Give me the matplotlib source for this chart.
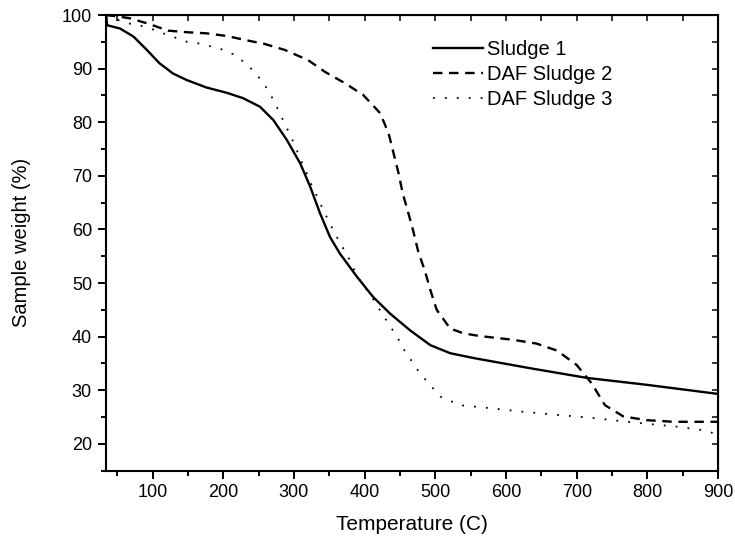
import matplotlib.pyplot as plt
from matplotlib.ticker import MultipleLocator

plt.rcParams['font.family'] = ['Liberation Sans', 'DejaVu Sans']

# Sludge 1 (solid)
t1 = [34, 36, 54, 73, 92, 110, 129, 148, 176, 205, 228, 252, 271, 290, 309, 323, 337,
      351, 365, 389, 412, 436, 464, 493, 521, 554, 634, 714, 799, 900]
w1 = [100, 98.1, 97.5, 96.0, 93.5, 91.0, 89.1, 87.9, 86.5, 85.5, 84.5, 82.9, 80.4, 76.7,
      72.3, 68.0, 63.0, 58.6, 55.5, 51.2, 47.4, 44.3, 41.2, 38.4, 36.9, 36.0, 34.1, 32.3,
      31.0, 29.3]

# DAF Sludge 2 (dashed)
t2 = [34, 54, 68, 94, 122, 149, 176, 205, 233, 259, 287, 320, 344, 372, 398, 422, 434,
      441, 448, 454, 462, 469, 476, 485, 493, 502, 521, 540, 563, 610, 643, 672, 700, 721,
      740, 766, 799, 837, 900]
w2 = [100, 99.7, 99.4, 98.4, 97.1, 96.8, 96.6, 96.1, 95.3, 94.6, 93.5, 91.6, 89.4, 87.3,
      85.1, 81.7, 77.9, 74.2, 70.5, 66.7, 63.0, 59.6, 55.8, 52.4, 48.7, 45.0, 41.5, 40.6,
      40.1, 39.4, 38.7, 37.4, 34.7, 31.3, 27.2, 25.1, 24.4, 24.1, 24.1]

# DAF Sludge 3 (dotted)
t3 = [34, 51, 68, 84, 99, 115, 132, 149, 166, 181, 198, 214, 231, 245, 258, 268, 276, 289,
      297, 304, 311, 318, 325, 333, 341, 349, 357, 366, 376, 384, 393, 405, 416, 426, 437,
      447, 456, 478, 507, 535, 573, 622, 672, 724, 771, 809, 841, 875, 893, 900]
w3 = [99.4, 99.1, 98.4, 98.0, 97.4, 96.6, 95.8, 95.0, 94.7, 94.2, 93.6, 92.7, 91.1, 89.3,
      87.1, 84.9, 82.8, 79.2, 77.0, 74.8, 72.6, 70.5, 68.3, 66.1, 63.8, 61.6, 59.5, 57.3,
      55.1, 52.8, 50.6, 48.4, 46.2, 44.0, 41.8, 39.7, 37.5, 33.2, 28.8, 27.2, 26.7, 26.0,
      25.4, 24.8, 24.1, 23.6, 23.2, 22.6, 22.0, 21.2]

fig = plt.figure(figsize=(7.35, 5.39), dpi=100)
ax = fig.add_axes([0.144, 0.127, 0.833, 0.845])

ax.plot(t1, w1, color='black', lw=1.7, ls='-', label='Sludge 1')
ax.plot(t2, w2, color='black', lw=1.7, ls=(0, (4, 2.8)), label='DAF Sludge 2')
ax.plot(t3, w3, color='black', lw=1.3, ls=(0, (1, 5.6)), label='DAF Sludge 3')

ax.set_xlim(34, 900)
ax.set_ylim(15, 100)
ax.xaxis.set_major_locator(MultipleLocator(100))
ax.xaxis.set_minor_locator(MultipleLocator(50))
ax.yaxis.set_major_locator(MultipleLocator(10))
ax.yaxis.set_minor_locator(MultipleLocator(5))

ax.tick_params(which='both', direction='out', top=False, right=False, labelsize=13, pad=4)
ax.tick_params(which='major', length=6, width=1.4)
ax.tick_params(which='minor', length=3.5, width=1.4)
for sp in ax.spines.values():
    sp.set_linewidth(1.5)

sec_x = ax.secondary_xaxis('top')
sec_x.xaxis.set_major_locator(MultipleLocator(50))
sec_x.tick_params(direction='in', length=4, width=1.1, labeltop=False)
sec_y = ax.secondary_yaxis('right')
sec_y.yaxis.set_major_locator(MultipleLocator(5))
sec_y.tick_params(direction='in', length=4, width=1.1, labelright=False)

ax.set_xlabel('Temperature (C)', fontsize=15, labelpad=10)
ax.set_ylabel('Sample weight (%)', fontsize=14.5, labelpad=22)

ax.legend(loc='upper left', bbox_to_anchor=(0.534, 0.946), frameon=False, fontsize=14.5,
          borderpad=0, borderaxespad=0, handlelength=2.5, handletextpad=0.2,
          labelspacing=0.3)

fig.savefig('out.png', dpi=100)
